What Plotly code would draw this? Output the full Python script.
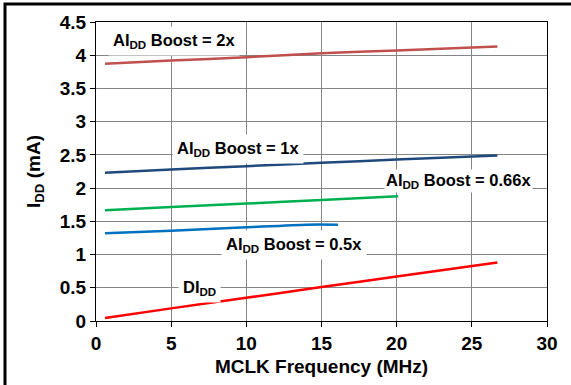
import plotly.graph_objects as go

# MCLK frequency (MHz) sample points
mclk_long = [0.6, 5, 10, 15, 20, 26.7]
mclk_066 = [0.6, 5, 10, 15, 20.1]
mclk_05 = [0.6, 5, 10, 14, 16.1]

# I_DD (mA) per boost setting
aidd_2x = [3.87, 3.92, 3.97, 4.03, 4.07, 4.13]
aidd_1x = [2.23, 2.28, 2.33, 2.38, 2.43, 2.49]
aidd_066x = [1.667, 1.714, 1.767, 1.82, 1.876]
aidd_05x = [1.32, 1.36, 1.41, 1.45, 1.45]
didd = [0.045, 0.19, 0.35, 0.51, 0.67, 0.88]

x_ticks = [0, 5, 10, 15, 20, 25, 30]
y_ticks = [0, 0.5, 1, 1.5, 2, 2.5, 3, 3.5, 4, 4.5]
y_ticktext = ["0", "0.5", "1", "1.5", "2", "2.5", "3", "3.5", "4", "4.5"]

font_family = "Liberation Sans, Arial, sans-serif"
grid_color = "#858585"

fig = go.Figure()

series = [
    (mclk_long, aidd_2x, "#C0504D"),
    (mclk_long, aidd_1x, "#1F497D"),
    (mclk_066, aidd_066x, "#00B050"),
    (mclk_05, aidd_05x, "#0070C0"),
    (mclk_long, didd, "#FF0000"),
]
for xs, ys, color in series:
    fig.add_trace(go.Scatter(
        x=xs, y=ys, mode="lines",
        line=dict(color=color, width=2.5, shape="spline", smoothing=0.6),
        showlegend=False, hoverinfo="skip",
    ))

# curve labels (white boxes hide the grid behind them)
labels = [
    ("AI<sub>DD</sub> Boost = 2x", 5.2, 4.22, 4),
    ("AI<sub>DD</sub> Boost = 1x", 9.45, 2.59, 4),
    ("AI<sub>DD</sub> Boost = 0.66x", 24.1, 2.11, 1),
    ("AI<sub>DD</sub> Boost = 0.5x", 13.15, 1.14, 4),
    ("DI<sub>DD</sub>", 6.9, 0.50, 4),
]
for text, lx, ly, pad in labels:
    fig.add_annotation(
        x=lx, y=ly, text=text, showarrow=False,
        font=dict(family=font_family, size=16.5, color="black", weight="bold"),
        bgcolor="white", borderpad=pad,
    )

# outer frame (left and top edges only, as in the original crop)
fx = (5 - 96) / 451
fy = (322 - 2.5) / 301.3
fig.add_shape(type="rect", xref="paper", yref="paper", x0=fx, x1=1.2, y0=-0.4, y1=fy,
              line=dict(color="black", width=3), fillcolor="rgba(0,0,0,0)", layer="above")

fig.update_layout(
    width=571, height=385,
    margin=dict(l=96, r=24, t=21, b=63),
    plot_bgcolor="white", paper_bgcolor="white",
    font=dict(family=font_family, color="black"),
)

fig.update_xaxes(
    range=[0, 30], tickvals=x_ticks,
    showgrid=True, gridcolor=grid_color, gridwidth=1, zeroline=False,
    showline=True, linecolor="black", linewidth=1, mirror=True,
    ticks="outside", ticklen=5, tickcolor="black",
    tickfont=dict(family=font_family, size=19, color="black", weight="bold"),
    title=dict(text="MCLK Frequency (MHz)", standoff=6,
               font=dict(family=font_family, size=19, color="black", weight="bold")),
)
fig.update_yaxes(
    range=[0, 4.5], tickvals=y_ticks, ticktext=y_ticktext,
    showgrid=True, gridcolor=grid_color, gridwidth=1, zeroline=False,
    showline=True, linecolor="black", linewidth=1, mirror=True,
    ticks="outside", ticklen=5, tickcolor="black",
    tickfont=dict(family=font_family, size=19, color="black", weight="bold"),
    title=dict(text="I<sub>DD</sub> (mA)", standoff=14,
               font=dict(family=font_family, size=19, color="black", weight="bold")),
)

# drop the page's default body margin so the figure sits at the window origin
fig.write_html("out.html", config={"displayModeBar": False},
               post_script="document.body.style.margin='0px';")
